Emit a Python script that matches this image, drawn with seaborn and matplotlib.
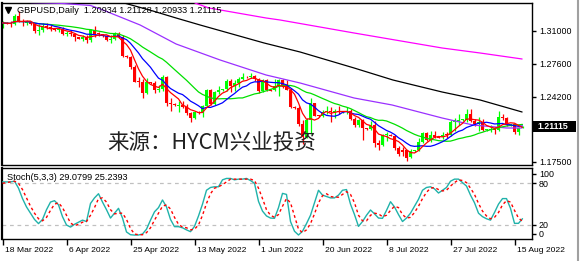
import numpy as np
import pandas as pd
import matplotlib
matplotlib.use("Agg")
import matplotlib.pyplot as plt
import matplotlib.transforms as mtrans
from matplotlib.patches import Rectangle
from matplotlib.lines import Line2D
import seaborn as sns

# ---------------- data ----------------
open_ = [1.3165,1.3180,1.3175,1.3170,1.3250,1.3200,1.3180,1.3185,1.3170,1.3095,
         1.3110,1.3145,1.3135,1.3115,1.3110,1.3120,1.3070,1.3075,1.3070,1.3030,
         1.3015,1.3035,1.3000,1.3105,1.3070,1.3065,1.3045,1.3005,1.3015,1.3070,
         1.3040,1.2835,1.2830,1.2725,1.2575,1.2570,1.2455,1.2570,1.2560,1.2490,
         1.2500,1.2625,1.2350,1.2345,1.2330,1.2335,1.2315,1.2250,1.2200,1.2265,
         1.2250,1.2320,1.2490,1.2340,1.2470,1.2490,1.2495,1.2580,1.2530,1.2560,
         1.2600,1.2625,1.2620,1.2630,1.2600,1.2480,1.2590,1.2490,1.2485,1.2530,
         1.2590,1.2535,1.2490,1.2315,1.2300,1.2135,1.2005,1.2180,1.2350,1.2225,
         1.2220,1.2265,1.2275,1.2260,1.2270,1.2265,1.2270,1.2275,1.2190,1.2125,
         1.2175,1.2095,1.2090,1.2125,1.1945,1.1920,1.2025,1.2030,1.2015,1.1890,
         1.1870,1.1870,1.1795,1.1865,1.1870,1.1955,1.2050,1.1975,1.2020,1.2005,
         1.2000,1.2035,1.2025,1.2160,1.2175,1.2180,1.2175,1.2245,1.2165,1.2140,
         1.2160,1.2075,1.2080,1.2085,1.2075,1.2210,1.2205,1.2130,1.2135,1.2055,
         1.20934]
high_ = [1.3200,1.3190,1.3205,1.3270,1.3298,1.3220,1.3215,1.3190,1.3175,1.3170,
         1.3180,1.3175,1.3160,1.3120,1.3140,1.3135,1.3095,1.3105,1.3080,1.3035,
         1.3055,1.3055,1.3115,1.3145,1.3085,1.3070,1.3060,1.3060,1.3090,1.3090,
         1.3055,1.2845,1.2835,1.2745,1.2620,1.2600,1.2610,1.2575,1.2580,1.2540,
         1.2640,1.2635,1.2410,1.2350,1.2375,1.2380,1.2345,1.2265,1.2265,1.2270,
         1.2330,1.2500,1.2500,1.2480,1.2525,1.2500,1.2600,1.2600,1.2590,1.2620,
         1.2665,1.2635,1.2665,1.2640,1.2610,1.2600,1.2600,1.2500,1.2600,1.2600,
         1.2600,1.2595,1.2505,1.2320,1.2320,1.2180,1.2200,1.2405,1.2360,1.2235,
         1.2285,1.2325,1.2315,1.2290,1.2325,1.2275,1.2315,1.2295,1.2210,1.2190,
         1.2190,1.2100,1.2165,1.2165,1.1975,1.2040,1.2060,1.2035,1.2020,1.1915,
         1.1905,1.1875,1.1880,1.1875,1.1990,1.2060,1.2060,1.2065,1.2065,1.2010,
         1.2060,1.2060,1.2180,1.2205,1.2245,1.2190,1.2295,1.2290,1.2190,1.2210,
         1.2195,1.2085,1.2125,1.2110,1.2275,1.2245,1.2215,1.2140,1.2140,1.2110,
         1.21128]
low_ = [1.3125,1.3170,1.3140,1.3160,1.3185,1.3150,1.3160,1.3160,1.3080,1.3055,
        1.3090,1.3120,1.3095,1.3100,1.3085,1.3060,1.3050,1.3050,1.2995,1.3010,
        1.2990,1.2975,1.2980,1.3035,1.3050,1.3040,1.2990,1.2975,1.3000,1.3020,
        1.2825,1.2815,1.2705,1.2570,1.2520,1.2410,1.2450,1.2550,1.2460,1.2465,
        1.2480,1.2325,1.2275,1.2320,1.2260,1.2300,1.2235,1.2155,1.2190,1.2240,
        1.2210,1.2310,1.2335,1.2330,1.2445,1.2480,1.2475,1.2470,1.2480,1.2520,
        1.2590,1.2615,1.2610,1.2580,1.2460,1.2465,1.2480,1.2480,1.2480,1.2430,
        1.2510,1.2485,1.2305,1.2290,1.2115,1.1935,1.1990,1.2040,1.2220,1.2210,
        1.2215,1.2245,1.2160,1.2200,1.2240,1.2255,1.2245,1.2180,1.2110,1.2105,
        1.1975,1.2080,1.2075,1.1900,1.1875,1.1915,1.1960,1.2010,1.1875,1.1805,
        1.1805,1.1760,1.1785,1.1855,1.1865,1.1945,1.1960,1.1950,1.1990,1.1990,
        1.1980,1.1990,1.2010,1.2065,1.2130,1.2170,1.2160,1.2160,1.2120,1.2065,
        1.2065,1.2065,1.2055,1.2040,1.2070,1.2180,1.2120,1.2120,1.2040,1.2020,
        1.20933]
close_ = [1.3180,1.3175,1.3170,1.3250,1.3200,1.3185,1.3190,1.3170,1.3095,1.3110,
          1.3145,1.3135,1.3115,1.3110,1.3120,1.3070,1.3075,1.3070,1.3030,1.3015,
          1.3035,1.3000,1.3105,1.3070,1.3065,1.3045,1.3005,1.3015,1.3070,1.3040,
          1.2835,1.2830,1.2725,1.2575,1.2570,1.2455,1.2570,1.2560,1.2490,1.2500,
          1.2625,1.2350,1.2345,1.2330,1.2335,1.2315,1.2250,1.2200,1.2265,1.2250,
          1.2320,1.2490,1.2340,1.2470,1.2490,1.2495,1.2580,1.2530,1.2560,1.2600,
          1.2625,1.2620,1.2630,1.2600,1.2480,1.2590,1.2490,1.2485,1.2530,1.2590,
          1.2535,1.2490,1.2315,1.2300,1.2135,1.2005,1.2180,1.2350,1.2225,1.2220,
          1.2265,1.2275,1.2260,1.2270,1.2265,1.2270,1.2275,1.2190,1.2125,1.2175,
          1.2095,1.2090,1.2125,1.1945,1.1920,1.2025,1.2030,1.2015,1.1890,1.1830,
          1.1845,1.1790,1.1865,1.1870,1.1955,1.2050,1.1975,1.2020,1.2005,1.2000,
          1.2030,1.2025,1.2160,1.2175,1.2180,1.2185,1.2245,1.2165,1.2140,1.2160,
          1.2075,1.2080,1.2085,1.2075,1.2210,1.2205,1.2130,1.2135,1.2055,1.2093,
          1.21115]

stoch_main = [82,82,82,83,73,58,46,37,28,22, 28,42,53,55,49,32,20,17,21,24,
              27,25,51,59,65,53,42,30,37,44, 30,10,6,5.5,5.6,7,14,27,39,45,
              56,46,28,17.6,17.6,16,13,10.4,18,33, 50,70,74,75,75,85,87,87,85,86,
              86,87,84,80,54,40,33,30,29.6,45, 65.5,64,25,11,5.6,11,22,34,52,70,
              63,61,59,59,63,70,71,50,35,18, 25,34,41.6,36,30,29.6,41,53.5,46,35,
              25,30,37,47,57,70,74,75,72,66, 70,74,83,86,86,81,76,63,52,37,
              32,29,27,38,50,58,58,44,22.4,22.4,29.08]
stoch_signal = [80,81,82,83,80,71,59,47,37,29, 26,31,41,50,52,45,34,23,19,21,
                24,25,34,45,58,59,53,42,36,37, 37,28,15,7,6,6,9,16,27,37,
                47,49,43,31,21,17,16,13,14,20, 34,51,65,73,75,78,82,86,86,86,
                86,86,86,84,73,58,42,34,31,35, 47,58,52,33,14,9,13,22,36,52,
                62,65,61,60,60,64,68,64,52,34, 26,26,34,37,36,32,34,41,47,45,
                35,30,31,38,47,58,67,73,74,71, 69,70,76,81,85,84,81,73,64,51,
                40,33,29,31,38,49,55,53,41,30,25.24]

# slow moving averages (bar index, price)
ma50_i = [7, 14.5, 22, 25.1, 34.4, 43.4, 54.4, 65.9, 74.4, 87.9, 97.4, 109.9, 117.6, 126.1, 129.9]
ma50_v = [1.3390, 1.3382, 1.3360, 1.33134, 1.31588, 1.29630, 1.27981, 1.26435, 1.25611,
          1.24065, 1.23344, 1.22004, 1.21283, 1.20974, 1.20974]
ma100_i = [30.4, 37.6, 43.4, 49.4, 65.4, 74.4, 87.9, 97.6, 109.9, 119.4, 129.9]
ma100_v = [1.33855, 1.33031, 1.32309, 1.31588, 1.29733, 1.28805, 1.27157, 1.25920,
           1.24683, 1.23859, 1.22622]
ma200_i = [48.1, 51.6, 65.9, 69.4, 87.9, 109.9, 119.4, 129.9]
ma200_v = [1.33855, 1.33340, 1.32309, 1.32103, 1.30763, 1.29218, 1.28702, 1.28084]

date_tick_idx = [0, 16, 32, 48, 64, 80, 96, 112, 128]
date_labels = ["18 Mar 2022", "6 Apr 2022", "25 Apr 2022", "13 May 2022", "1 Jun 2022",
               "20 Jun 2022", "8 Jul 2022", "27 Jul 2022", "15 Aug 2022"]
price_ticks = [1.31000, 1.27600, 1.24200, 1.17500]
stoch_tick_pos = [93.5, 80, 20, 7.5]
stoch_tick_lab = ["100", "80", "20", "0"]
header = "GBPUSD,Daily  1.20934 1.21128 1.20933 1.21115"
stoch_header = "Stoch(5,3,3) 29.0799 25.2393"
last_price = 1.21115
watermark = "来源：HYCM兴业投资"

# ---------------- figure ----------------
sns.set_style("white")
plt.rcParams['font.family'] = ['Liberation Sans', 'DejaVu Sans']

W, H = 582, 261
fig = plt.figure(figsize=(W / 100, H / 100), dpi=100)
fig.patch.set_facecolor("white")

def fx(x):
    return x / W

def fy(y):
    return 1 - y / H

ax = fig.add_axes([fx(2), fy(165), (532 - 2) / W, (165 - 3) / H])
axs = fig.add_axes([fx(2), fy(239), (532 - 2) / W, (239 - 168) / H])

x_left = (2 - 2.5) / 4
x_right = (532 - 2.5) / 4

df = pd.DataFrame({"o": open_, "h": high_, "l": low_, "c": close_})
df["i"] = np.arange(len(df))
bull, bear = "#00FF00", "#FF0000"
cols = np.where(df["c"] >= df["o"], bull, bear)

ax.vlines(df["i"], df["l"], df["h"], colors=cols, lw=0.9, zorder=2)
body_lo = np.minimum(df["o"], df["c"])
body_h = np.abs(df["c"] - df["o"])
min_h = 0.0009
body_lo = np.where(body_h < min_h, (df["o"] + df["c"]) / 2 - min_h / 2, body_lo)
body_h = np.maximum(body_h, min_h)
ax.bar(df["i"], body_h, bottom=body_lo, width=0.78, color=cols, linewidth=0, zorder=2)

# fast moving averages from closes
ma5 = df["c"].rolling(5, min_periods=1).mean()
ma10 = df["c"].rolling(10, min_periods=1).mean()
ma20 = df["c"].rolling(20, min_periods=1).mean()

lw = 0.9
sns.lineplot(x=ma200_i, y=ma200_v, ax=ax, color="#FF00FF", lw=lw, sort=False, legend=False, zorder=3)
sns.lineplot(x=ma100_i, y=ma100_v, ax=ax, color="#000000", lw=lw, sort=False, legend=False, zorder=3)
sns.lineplot(x=ma50_i, y=ma50_v, ax=ax, color="#9B30FF", lw=lw, sort=False, legend=False, zorder=3)
sns.lineplot(x=df["i"], y=ma20, ax=ax, color="#00E000", lw=lw, sort=False, legend=False, zorder=3)
sns.lineplot(x=df["i"], y=ma10, ax=ax, color="#0000FF", lw=lw, sort=False, legend=False, zorder=3)
sns.lineplot(x=df["i"], y=ma5, ax=ax, color="#FF0000", lw=lw, sort=False, legend=False, zorder=3)

ymax = 1.31 + (30.7 - 3) / 970.37
ymin = 1.31 - (165 - 30.7) / 970.37
ax.set_xlim(x_left, x_right)
ax.set_ylim(ymin, ymax)
ax.set_xlabel("")
ax.set_ylabel("")
ax.set_xticks([])
ax.yaxis.tick_right()
ax.set_yticks(price_ticks)
ax.set_yticklabels([f"{v:.5f}" for v in price_ticks])
ax.tick_params(axis="y", which="both", direction="out", length=3, width=1,
               pad=2, labelsize=6.4, right=True, left=False, colors="black")

# stochastic panel
axs.axhline(80, color="#C0C0C0", lw=0.9, ls=(0, (3, 3)), zorder=1)
axs.axhline(20, color="#C0C0C0", lw=0.9, ls=(0, (3, 3)), zorder=1)
sns.lineplot(x=df["i"], y=stoch_main, ax=axs, color="#20B2AA", lw=1.0, sort=False, legend=False, zorder=3)
sns.lineplot(x=df["i"], y=stoch_signal, ax=axs, color="#FF0000", lw=1.0, sort=False,
             legend=False, zorder=4, linestyle=(0, (2, 2)))
axs.set_xlim(x_left, x_right)
axs.set_ylim((238.9 - 239) / 0.695, (238.9 - 168) / 0.695)
axs.set_xlabel("")
axs.set_ylabel("")
axs.yaxis.tick_right()
axs.set_yticks(stoch_tick_pos)
axs.set_yticklabels(stoch_tick_lab)
axs.tick_params(axis="y", direction="out", length=3, width=1, pad=2, labelsize=6.4,
                right=True, left=False, colors="black")
axs.set_xticks(date_tick_idx)
axs.set_xticklabels(date_labels)
axs.tick_params(axis="x", direction="out", length=4, width=1, pad=1.5, labelsize=6.1,
                bottom=True, top=False, colors="black")
off = mtrans.ScaledTranslation(2.5 / 100, 0, fig.dpi_scale_trans)
for lbl in axs.get_xticklabels():
    lbl.set_horizontalalignment("left")
    lbl.set_transform(lbl.get_transform() + off)

for a in (ax, axs):
    for s in a.spines.values():
        s.set_color("black")
        s.set_linewidth(1.0)
        s.set_visible(True)
    a.set_facecolor("white")
ax.spines["left"].set_linewidth(1.6)
axs.spines["left"].set_linewidth(1.6)

# current price box
bt = mtrans.blended_transform_factory(fig.transFigure, ax.transData)
box_h = 11.5 / 970.37
fig.add_artist(Rectangle((fx(533), last_price - box_h / 2), (576 - 533) / W, box_h,
                         transform=bt, facecolor="black", edgecolor="none", zorder=5))
fig.add_artist(matplotlib.text.Text(fx(537.5), last_price, f"{last_price:.5f}", transform=bt,
                                    color="white", fontsize=6.4, va="center", ha="left",
                                    fontweight="bold", zorder=6))

# header texts
fig.add_artist(Line2D([fx(8)], [fy(10)], marker="v", markersize=4.5, color="black",
                      transform=fig.transFigure))
fig.text(fx(17), fy(10.5), header, fontsize=6.6, va="center", ha="left", color="black")
fig.text(fx(7), fy(177.5), stoch_header, fontsize=6.6, va="center", ha="left", color="black")

# watermark
fig.text(fx(212), fy(143.5), watermark, fontsize=15.5, va="center", ha="center",
         color="#222222", family=["Noto Sans CJK SC", "DejaVu Sans"])

# window frame on the right
fig.add_artist(Line2D([fx(577.5), fx(577.5)], [0, 1], color="#A0A0A0", lw=1.5,
                      transform=fig.transFigure))

fig.savefig("out.png", dpi=100, facecolor="white")
